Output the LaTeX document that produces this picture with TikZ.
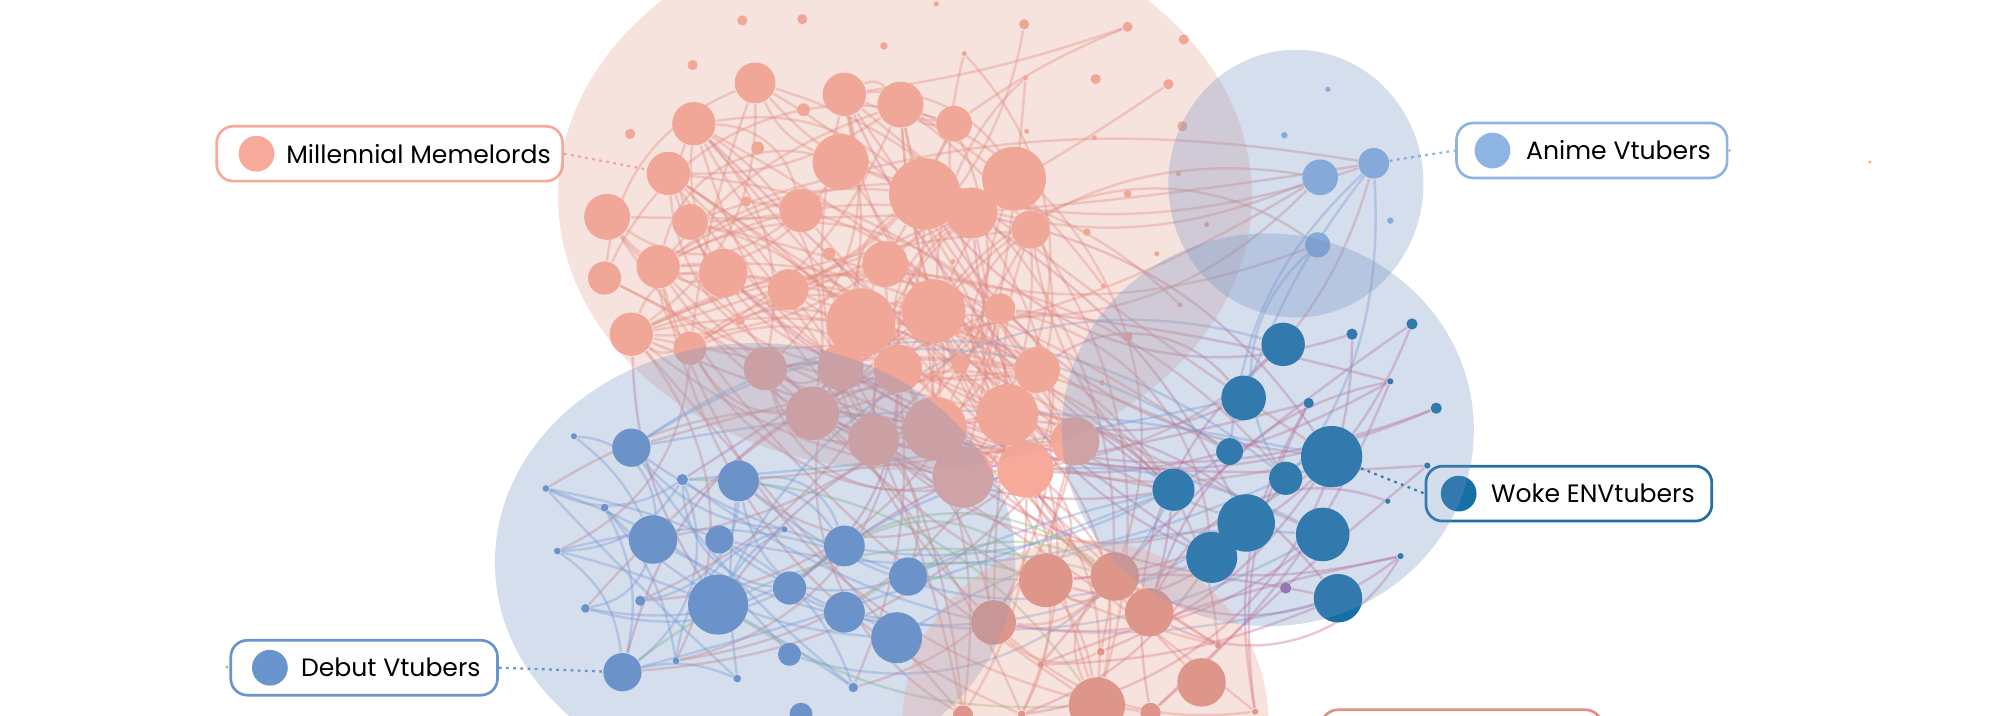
\documentclass[tikz,border=0pt]{standalone}
\usepackage{fontspec}
\setmainfont{Poppins}
\usetikzlibrary{positioning}
\pgfdeclarelayer{edges}
\pgfdeclarelayer{hulls}
\pgfsetlayers{edges,main,hulls}
\definecolor{msalm}{HTML}{F7AA9A}
\definecolor{lsalm}{HTML}{DE9187}
\definecolor{dblue}{HTML}{6A94CD}
\definecolor{wblue}{HTML}{1670A4}
\definecolor{wline}{HTML}{1F6EA6}
\definecolor{ablue}{HTML}{8EB4E3}
\definecolor{purp}{HTML}{A070B0}
\definecolor{sedge}{HTML}{E0847C}
\definecolor{pedge}{HTML}{CF6A92}
\definecolor{bedge}{HTML}{7C9ED6}
\definecolor{gedge}{HTML}{8DBF7A}
\definecolor{shull}{HTML}{E4A291}
\definecolor{bhull}{HTML}{7391C3}

\begin{document}
\begin{tikzpicture}[
  x=0.01cm, y=-0.01cm,
  font=\fontsize{5.6}{7}\selectfont,
  dot/.style={circle, inner sep=0pt, minimum size=#1*0.02cm},
  mnode/.style={dot=#1, fill=msalm},
  lnode/.style={dot=#1, fill=lsalm},
  dnode/.style={dot=#1, fill=dblue},
  wnode/.style={dot=#1, fill=wblue},
  anode/.style={dot=#1, fill=ablue},
  legbox/.style={draw, line width=0.6pt, rounded corners=0.13cm, fill=white, minimum height=0.43cm},
  lead/.style={line width=0.5pt, dash pattern=on 0.6pt off 1pt},
  edge/.style={line width=0.55pt, draw opacity=0.38},
  hull/.style={fill opacity=0.3}
]
\useasboundingbox (0,0) rectangle (1568,561);

% memelords, big ones first (1-35), then the small dots (36-68)
\foreach \n/\x/\y/\r in {1/592/65/16, 2/662/74/17, 3/706/82/18, 4/748/97/14,
    5/544/97/17, 6/524/136/17, 7/659/127/22, 8/725/152/28, 9/795/140/25,
    10/762/167/20, 11/808/180/15, 12/476/170/18, 13/541/174/14, 14/628/165/17,
    15/516/209/17, 16/567/214/19, 17/618/227/16, 18/694/207/18, 19/474/218/13,
    20/675/253/27, 21/732/244/25, 22/784/242/12, 23/495/262/17, 24/541/273/13,
    25/600/289/17, 26/659/288/18, 27/704/289/19, 28/813/290/18, 29/637/324/21,
    30/685/345/20, 31/733/336/25, 32/790/325/24, 33/843/346/19, 34/755/374/24,
    35/804/368/22,
    36/582/16/4, 37/629/15/4, 38/734/3/2, 39/803/19/4, 40/884/21/4, 41/928/31/4,
    42/543/51/4, 43/693/36/3, 44/756/42/2, 45/494/105/4, 46/630/86/5,
    47/594/116/5, 48/585/158/4, 49/650/199/5, 50/580/251/4, 51/753/285/7,
    52/804/61/2, 53/859/62/4, 54/916/66/4, 55/927/99/4, 56/805/103/2,
    57/858/108/2, 58/884/152/3, 59/924/136/2, 60/852/182/3, 61/946/176/2,
    62/747/205/2, 63/907/199/2, 64/865/224/2, 65/824/245/2, 66/884/264/4,
    67/925/239/2, 68/864/300/2}
  \node[mnode=\r] (m\n) at (\x,\y) {};

% lower salmon group
\foreach \n/\x/\y/\r in {1/820/455/21, 2/874/452/19, 3/901/480/19, 4/779/488/17.5,
    5/942/535/19, 6/860/553/22, 7/902/559/8, 8/863/511/3, 9/816/521/2.4,
    10/955/506/2.4, 11/984/558/2.4, 12/755/561/8, 13/801/560/3}
  \node[lnode=\r] (l\n) at (\x,\y) {};

% debut vtubers
\foreach \n/\x/\y/\r in {1/495/351/15, 2/579/377/16, 3/535/376/4.4, 4/512/423/19,
    5/564/423/11, 6/662/428/16, 7/712/452/15, 8/619/461/13, 9/563/474/23.5,
    10/662/480/16, 11/703/500/20, 12/488/527/15, 13/619/513/9,
    14/450/342/2.4, 15/428/383/2.6, 16/474/398/3, 17/437/432/2.6, 18/615/415/2.4,
    19/502/471/4, 20/459/477/3.4, 21/530/518/2.6, 22/578/532/3, 23/669/539/3.7,
    24/628/560/9}
  \node[dnode=\r] (d\n) at (\x,\y) {};

% woke envtubers
\foreach \n/\x/\y/\r in {1/1006/270/17, 2/975/312/17.5, 3/1044/358/24, 4/964/354/10.5,
    5/1008/375/13, 6/920/384/16.5, 7/977/410/22.5, 8/950/437/20, 9/1037/419/21,
    10/1049/469/19, 11/1026/316/4, 12/1060/262/4.4, 13/1107/254/4.4,
    14/1090/299/2.4, 15/1126/320/4.4, 16/1119/365/2.4, 17/1088/393/2,
    18/1098/436/2.4}
  \node[wnode=\r] (w\n) at (\x,\y) {};
\node[dot=4.4, fill=purp] (p1) at (1008,461) {};

% anime vtubers
\foreach \n/\x/\y/\r in {1/1035/139/14, 2/1077/128/12, 3/1033/192/10,
    4/1041/70/2, 5/1007/106/2.5, 6/1090/173/2.5}
  \node[anode=\r] (a\n) at (\x,\y) {};

% stray dots
\node[dot=1.2, fill=orange!70] (t1) at (1466,127) {};
\node[dot=1.2, fill=orange!70] (t2) at (1356,118) {};
\node[dot=1.2, fill=gedge] (t3) at (178,523) {};

% legend boxes
\node[legbox, draw=msalm, minimum width=2.71cm] (mbox) at (305.5,120.5) {};
\node[mnode=14, right=0.175cm of mbox.west] (mkey) {};
\node[right=0.08cm of mkey, inner sep=0pt] (mlab) {Millennial Memelords};

\node[legbox, draw=ablue, minimum width=2.12cm] (abox) at (1248,118) {};
\node[anode=14, right=0.145cm of abox.west] (akey) {};
\node[right=0.11cm of akey, inner sep=0pt] (alab) {Anime Vtubers};

\node[legbox, draw=wline, minimum width=2.24cm] (wbox) at (1230,387) {};
\node[wnode=14, right=0.12cm of wbox.west] (wkey) {};
\node[right=0.1cm of wkey, inner sep=0pt] (wlab) {Woke ENVtubers};

\node[legbox, draw=dblue, minimum width=2.09cm] (dbox) at (285.5,523.5) {};
\node[dnode=14, right=0.17cm of dbox.west] (dkey) {};
\node[right=0.09cm of dkey, inner sep=0pt] (dlab) {Debut Vtubers};

\node[legbox, draw=lsalm, minimum width=2.2cm] (lbox) at (1146,578) {};

\draw[lead, draw=msalm] (mbox.east) -- (m6);
\draw[lead, draw=ablue] (a2) -- (abox.west);
\draw[lead, draw=wline] (w3) -- (wbox.west);
\draw[lead, draw=dblue] (dbox.east) -- (d12);

% edges: count / from group / range / to group / range / colour
\begin{pgfonlayer}{edges}
\pgfmathsetseed{42}
\foreach \cnt/\ga/\la/\ha/\gb/\lb/\hb/\cl in {
    110/m/1/35/m/1/35/sedge, 16/m/36/68/m/1/35/sedge, 34/m/1/35/l/1/13/sedge,
    18/m/1/35/w/1/18/pedge, 14/m/1/35/w/1/10/sedge, 10/m/1/35/a/1/3/sedge,
    35/d/1/24/d/1/24/bedge, 16/d/1/13/w/1/10/bedge, 16/d/1/24/m/20/35/sedge,
    8/d/1/13/l/1/6/gedge, 20/l/1/13/w/1/18/pedge, 8/l/1/13/l/1/13/sedge,
    4/a/1/3/w/1/10/bedge, 6/d/1/13/m/20/35/pedge}{
  \foreach \i in {1,...,\cnt}{
    \pgfmathtruncatemacro\a{random(\la,\ha)}
    \pgfmathtruncatemacro\b{random(\lb,\hb)}
    \pgfmathtruncatemacro\bend{random(-45,45)}
    \edef\na{\ga\a}\edef\nb{\gb\b}
    \ifx\na\nb\else
      \draw[edge, draw=\cl] (\na) to[bend left=\bend] (\nb);
    \fi
  }
}
\end{pgfonlayer}

% cluster hulls, laid over everything
\begin{pgfonlayer}{hulls}
\fill[hull, shull] (709.5,153.7) ellipse [x radius=272, y radius=215];
\fill[hull, bhull] (592,441) ellipse [x radius=204, y radius=172];
\fill[hull, bhull] (994,337) ellipse [x radius=161.5, y radius=154];
\fill[hull, bhull] (1016,144) ellipse [x radius=100, y radius=105];
\fill[hull, shull] (851,567) circle (143.5);
\end{pgfonlayer}
\end{tikzpicture}
\end{document}
